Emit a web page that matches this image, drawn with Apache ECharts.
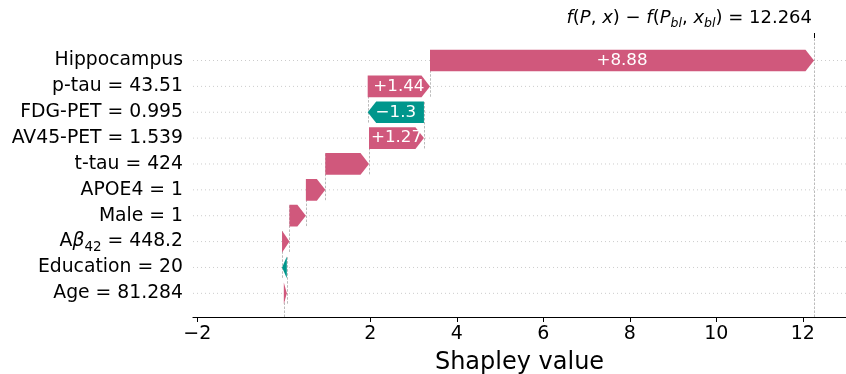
<!DOCTYPE html>
<html>
<head>
<meta charset="utf-8">
<script src="https://cdn.jsdelivr.net/npm/echarts@6/dist/echarts.min.js"></script>
<style>
html,body{margin:0;padding:0;background:#fff;}
#chart{width:846px;height:374px;}
</style>
</head>
<body>
<div id="chart"></div>
<script>
// ---- data (bottom row first) ----
const rowLabels = [
  "Age = 81.284",
  "Education = 20",
  "{n|A}{b|β}{s|42}{n| = 448.2}",
  "Male = 1",
  "APOE4 = 1",
  "t-tau = 424",
  "AV45-PET = 1.539",
  "FDG-PET = 0.995",
  "p-tau = 43.51",
  "Hippocampus"
];
const shapValues = [0.07, -0.11, 0.17, 0.38, 0.45, 1.01, 1.27, -1.30, 1.44, 8.88];
const baseValue = 0;
const fxValue = 12.264;
const xTicks = [-2, 2, 4, 6, 8, 10, 12];

// ---- styling ----
const FONT = "DejaVu Sans";
const POS = "#d0587c";
const NEG = "#00968c";
const Y_MIN = -0.915, Y_MAX = 9.87;
const X_MIN = -2.1, X_MAX = 13.0;
const HEAD_PX = 8.5;
const BAR_H = 0.84;
const LBL = 18.8;

// build bar table from values
const bars = [];
let cum = baseValue;
shapValues.forEach((v, i) => {
  bars.push([i, cum, cum + v, v]);
  cum += v;
});
// connector lines between consecutive rows
const connectors = [];
for (let i = 0; i < bars.length - 1; i++) {
  connectors.push([bars[i][2], i - 0.4, i + 1 + 0.4]);
}
connectors.push([baseValue, Y_MIN, Y_MIN + (Y_MAX - Y_MIN) / rowLabels.length]);
connectors.push([fxValue, Y_MIN, Y_MAX]);

const rowIdx = rowLabels.map((_, i) => i);

const mctx = document.createElement("canvas").getContext("2d");
function textW(t, size) { mctx.font = size + "px " + FONT; return mctx.measureText(t).width; }
function fmt(v) { return (v >= 0 ? "+" : "\u2212") + Math.abs(v).toFixed(2).replace(/0+$/, "").replace(/\.$/, ""); }

const chart = echarts.init(document.getElementById("chart"), null, {renderer: "canvas"});
chart.setOption({
  animation: false,
  backgroundColor: "#fff",
  grid: {left: 193, right: 0, top: 38, bottom: 57, containLabel: false, outerBoundsMode: "none"},
  xAxis: [{
    type: "value", min: X_MIN, max: X_MAX,
    axisLine: {show: true, onZero: false, lineStyle: {color: "#000", width: 1.2}},
    axisTick: {show: true, length: 5, lineStyle: {color: "#000", width: 1}, customValues: xTicks},
    axisLabel: {
      customValues: xTicks, color: "#000", fontFamily: FONT, fontSize: 19, margin: 8,
      formatter: v => (v < 0 ? "\u2212" + Math.abs(v) : String(v))
    },
    splitLine: {show: false},
    name: "Shapley value", nameLocation: "middle", nameGap: 34,
    nameTextStyle: {color: "#000", fontFamily: FONT, fontSize: 24}
  }, {
    type: "value", min: X_MIN, max: X_MAX, position: "top",
    axisLine: {show: false, onZero: false},
    axisTick: {show: true, length: 5, lineStyle: {color: "#000", width: 1}, customValues: [fxValue]},
    axisLabel: {show: false},
    splitLine: {show: false}
  }],
  yAxis: {
    type: "value", min: Y_MIN, max: Y_MAX,
    axisLine: {show: false}, axisTick: {show: false}, splitLine: {show: false},
    axisLabel: {
      customValues: rowIdx, color: "#000", fontFamily: FONT, fontSize: LBL, margin: 10,
      formatter: v => rowLabels[Math.round(v)],
      rich: {
        n: {fontFamily: FONT, fontSize: LBL, color: "#000", lineHeight: 26},
        b: {fontFamily: FONT, fontSize: LBL, fontStyle: "italic", color: "#000", lineHeight: 26},
        s: {fontFamily: FONT, fontSize: 13.5, color: "#000", lineHeight: 16, verticalAlign: "bottom"}
      }
    }
  },
  graphic: [{
    type: "text", right: 34, top: 9,
    style: {
      text: "{i|f}{n|(}{i|P}{n|, }{i|x}{n|) \u2212 }{i|f}{n|(}{i|P}{s|bl}{n|, }{i|x}{s|bl}{n|) = 12.264}",
      rich: {
        i: {fontFamily: FONT, fontSize: 18, fontStyle: "italic", fill: "#000", lineHeight: 24},
        n: {fontFamily: FONT, fontSize: 18, fill: "#000", lineHeight: 24},
        s: {fontFamily: FONT, fontSize: 12.5, fontStyle: "italic", fill: "#000", lineHeight: 14, verticalAlign: "bottom"}
      }
    }
  }],
  series: [
    {
      name: "rows", type: "custom", z: 1, silent: true,
      data: rowIdx,
      renderItem: (params, api) => {
        const cs = params.coordSys;
        const y = api.coord([0, api.value(0)])[1];
        return {type: "line", shape: {x1: cs.x, y1: y, x2: cs.x + cs.width, y2: y},
          style: {stroke: "#cccccc", lineWidth: 1, lineDash: [1, 3]}};
      }
    },
    {
      name: "connectors", type: "custom", z: 2, silent: true,
      data: connectors,
      renderItem: (params, api) => {
        const a = api.coord([api.value(0), api.value(1)]);
        const b = api.coord([api.value(0), api.value(2)]);
        const x = Math.round(a[0]) + 0.5;
        return {type: "line", shape: {x1: x, y1: a[1], x2: x, y2: b[1]},
          style: {stroke: "#bbbbbb", lineWidth: 1, lineDash: [2.5, 1.5]}};
      }
    },
    {
      name: "bars", type: "custom", z: 3, silent: true,
      data: bars,
      renderItem: (params, api) => {
        const row = api.value(0), s = api.value(1), e = api.value(2), v = api.value(3);
        const p0 = api.coord([s, row]), p1 = api.coord([e, row]);
        const half = api.size([0, BAR_H])[1] / 2;
        const y = p0[1];
        const dir = e >= s ? 1 : -1;
        const len = Math.abs(p1[0] - p0[0]);
        const h = Math.min(len, HEAD_PX);
        const color = v >= 0 ? POS : NEG;
        const children = [{
          type: "polygon",
          shape: {points: [
            [p0[0], y - half], [p1[0] - dir * h, y - half], [p1[0], y],
            [p1[0] - dir * h, y + half], [p0[0], y + half]
          ]},
          style: {fill: color}
        }];
        const t = fmt(v);
        if (textW(t, 16.5) < len - 2) {
          children.push({type: "text", z2: 10, style: {
            text: t, x: (p0[0] + p1[0]) / 2, y: y, align: "center", verticalAlign: "middle",
            fill: "#fff", fontFamily: FONT, fontSize: 16.7
          }});
        }
        return {type: "group", children};
      }
    }
  ]
});
</script>
</body>
</html>
